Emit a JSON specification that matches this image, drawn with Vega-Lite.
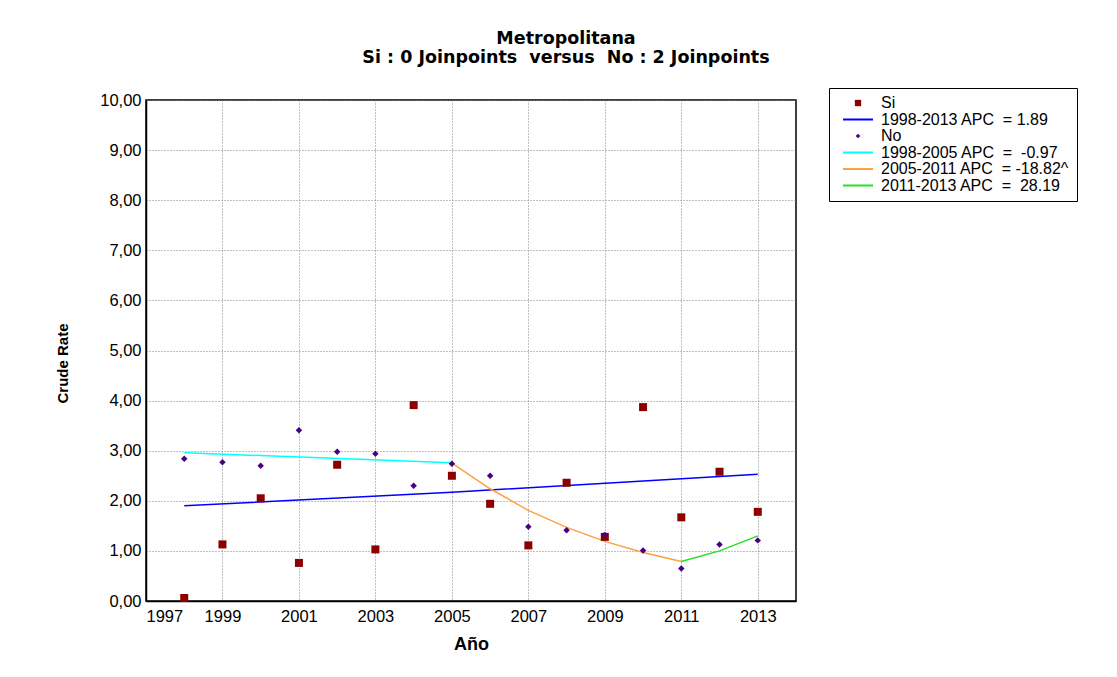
{
  "$schema": "https://vega.github.io/schema/vega-lite/v6.json",
  "width": 650,
  "height": 501,
  "autosize": {"type": "none"},
  "padding": {"left": 146, "top": 100, "right": 321, "bottom": 76},
  "background": "white",
  "title": {
    "text": ["Metropolitana", "Si : 0 Joinpoints \u00a0versus \u00a0No : 2 Joinpoints"],
    "font": "DejaVu Sans",
    "fontSize": 17.5,
    "fontWeight": "bold",
    "lineHeight": 19,
    "color": "black",
    "anchor": "middle",
    "frame": "group",
    "dx": 95,
    "offset": 21
  },
  "datasets": {
    "points": [
      {"year": 1998, "rate": 0.06, "series": "Si"},
      {"year": 1999, "rate": 1.13, "series": "Si"},
      {"year": 2000, "rate": 2.05, "series": "Si"},
      {"year": 2001, "rate": 0.76, "series": "Si"},
      {"year": 2002, "rate": 2.72, "series": "Si"},
      {"year": 2003, "rate": 1.03, "series": "Si"},
      {"year": 2004, "rate": 3.91, "series": "Si"},
      {"year": 2005, "rate": 2.50, "series": "Si"},
      {"year": 2006, "rate": 1.94, "series": "Si"},
      {"year": 2007, "rate": 1.11, "series": "Si"},
      {"year": 2008, "rate": 2.36, "series": "Si"},
      {"year": 2009, "rate": 1.28, "series": "Si"},
      {"year": 2010, "rate": 3.87, "series": "Si"},
      {"year": 2011, "rate": 1.67, "series": "Si"},
      {"year": 2012, "rate": 2.58, "series": "Si"},
      {"year": 2013, "rate": 1.78, "series": "Si"},
      {"year": 1998, "rate": 2.84, "series": "No"},
      {"year": 1999, "rate": 2.77, "series": "No"},
      {"year": 2000, "rate": 2.70, "series": "No"},
      {"year": 2001, "rate": 3.41, "series": "No"},
      {"year": 2002, "rate": 2.98, "series": "No"},
      {"year": 2003, "rate": 2.94, "series": "No"},
      {"year": 2004, "rate": 2.30, "series": "No"},
      {"year": 2005, "rate": 2.74, "series": "No"},
      {"year": 2006, "rate": 2.50, "series": "No"},
      {"year": 2007, "rate": 1.48, "series": "No"},
      {"year": 2008, "rate": 1.41, "series": "No"},
      {"year": 2009, "rate": 1.32, "series": "No"},
      {"year": 2010, "rate": 1.01, "series": "No"},
      {"year": 2011, "rate": 0.65, "series": "No"},
      {"year": 2012, "rate": 1.13, "series": "No"},
      {"year": 2013, "rate": 1.21, "series": "No"}
    ],
    "lines": [
      {"year": 1998, "rate": 1.90, "series": "1998-2013 APC  = 1.89"},
      {"year": 2005, "rate": 2.17, "series": "1998-2013 APC  = 1.89"},
      {"year": 2013, "rate": 2.53, "series": "1998-2013 APC  = 1.89"},
      {"year": 1998, "rate": 2.96, "series": "1998-2005 APC  =  -0.97"},
      {"year": 2005, "rate": 2.76, "series": "1998-2005 APC  =  -0.97"},
      {"year": 2005, "rate": 2.75, "series": "2005-2011 APC  = -18.82^"},
      {"year": 2006, "rate": 2.24, "series": "2005-2011 APC  = -18.82^"},
      {"year": 2007, "rate": 1.81, "series": "2005-2011 APC  = -18.82^"},
      {"year": 2008, "rate": 1.47, "series": "2005-2011 APC  = -18.82^"},
      {"year": 2009, "rate": 1.19, "series": "2005-2011 APC  = -18.82^"},
      {"year": 2010, "rate": 0.97, "series": "2005-2011 APC  = -18.82^"},
      {"year": 2011, "rate": 0.79, "series": "2005-2011 APC  = -18.82^"},
      {"year": 2011, "rate": 0.79, "series": "2011-2013 APC  =  28.19"},
      {"year": 2012, "rate": 1.00, "series": "2011-2013 APC  =  28.19"},
      {"year": 2013, "rate": 1.30, "series": "2011-2013 APC  =  28.19"}
    ]
  },
  "encoding": {
    "x": {
      "field": "year",
      "type": "quantitative",
      "scale": {"domain": [1997, 2014], "nice": false, "zero": false},
      "axis": {
        "title": "Año",
        "values": [1997, 1999, 2001, 2003, 2005, 2007, 2009, 2011, 2013],
        "format": "d",
        "labelFont": "Liberation Sans",
        "labelFontSize": 16.5,
        "labelColor": "black",
        "labelPadding": 7,
        "ticks": false,
        "titleFont": "Liberation Sans",
        "titleFontSize": 18,
        "titleFontWeight": "bold",
        "titleColor": "black",
        "titlePadding": 11,
        "domainColor": "black",
        "domainWidth": 1.5,
        "grid": true,
        "gridColor": "#808080",
        "gridDash": [1, 2],
        "gridWidth": 1
      }
    },
    "y": {
      "field": "rate",
      "type": "quantitative",
      "scale": {"domain": [0, 10], "nice": false, "zero": true},
      "axis": {
        "title": "Crude Rate",
        "values": [0, 1, 2, 3, 4, 5, 6, 7, 8, 9, 10],
        "labelExpr": "replace(format(datum.value, '.2f'), '.', ',')",
        "labelFont": "Liberation Sans",
        "labelFontSize": 16.5,
        "labelColor": "black",
        "labelPadding": 5,
        "ticks": false,
        "titleFont": "Liberation Sans",
        "titleFontSize": 15,
        "titleFontWeight": "bold",
        "titleColor": "black",
        "titleX": -76,
        "titleY": 263,
        "domainColor": "black",
        "domainWidth": 1.5,
        "grid": true,
        "gridColor": "#808080",
        "gridDash": [1, 2],
        "gridWidth": 1
      }
    },
    "color": {
      "field": "series",
      "type": "nominal",
      "scale": {
        "domain": ["Si", "1998-2013 APC  = 1.89", "No", "1998-2005 APC  =  -0.97", "2005-2011 APC  = -18.82^", "2011-2013 APC  =  28.19"],
        "range": ["#8b0000", "#0000ff", "#4b0082", "#00ffff", "#ffa040", "#22e022"]
      },
      "legend": {
        "title": null,
        "orient": "none",
        "legendX": 683,
        "legendY": -12,
        "direction": "vertical",
        "strokeColor": "black",
        "padding": 7,
        "symbolOffset": 14,
        "symbolSize": 900,
        "symbolStrokeWidth": 2,
        "labelFont": "Liberation Sans",
        "labelFontSize": 16,
        "labelColor": "black",
        "labelOffset": 15,
        "labelLimit": 300,
        "labelExpr": "replace(datum.label, /  /g, ' \u00a0')",
        "rowPadding": 0.5,
        "fillColor": "white",
        "encode": {
          "symbols": {
            "update": {
              "shape": {"signal": "datum.value === 'Si' ? 'square' : datum.value === 'No' ? 'diamond' : 'stroke'"},
              "size": {"signal": "datum.value === 'Si' ? 40 : datum.value === 'No' ? 22 : 900"},
              "fill": {"signal": "datum.value === 'Si' ? '#8b0000' : datum.value === 'No' ? '#4b0082' : 'transparent'"},
              "stroke": {"scale": "color", "field": "value"},
              "strokeWidth": {"signal": "datum.value === 'Si' || datum.value === 'No' ? 0 : 2"},
              "opacity": {"value": 1}
            }
          }
        }
      }
    }
  },
  "layer": [
    {
      "data": {"name": "lines"},
      "mark": {"type": "line", "strokeWidth": 1.5},
      "encoding": {}
    },
    {
      "data": {"name": "points"},
      "mark": {"type": "point", "filled": true, "opacity": 1},
      "encoding": {
        "shape": {
          "field": "series",
          "type": "nominal",
          "scale": {"domain": ["Si", "No"], "range": ["square", "diamond"]},
          "legend": null
        },
        "size": {
          "field": "series",
          "type": "nominal",
          "scale": {"domain": ["Si", "No"], "range": [64, 42]},
          "legend": null
        }
      }
    }
  ],
  "config": {
    "view": {"stroke": "black", "strokeWidth": 1.5}
  }
}
